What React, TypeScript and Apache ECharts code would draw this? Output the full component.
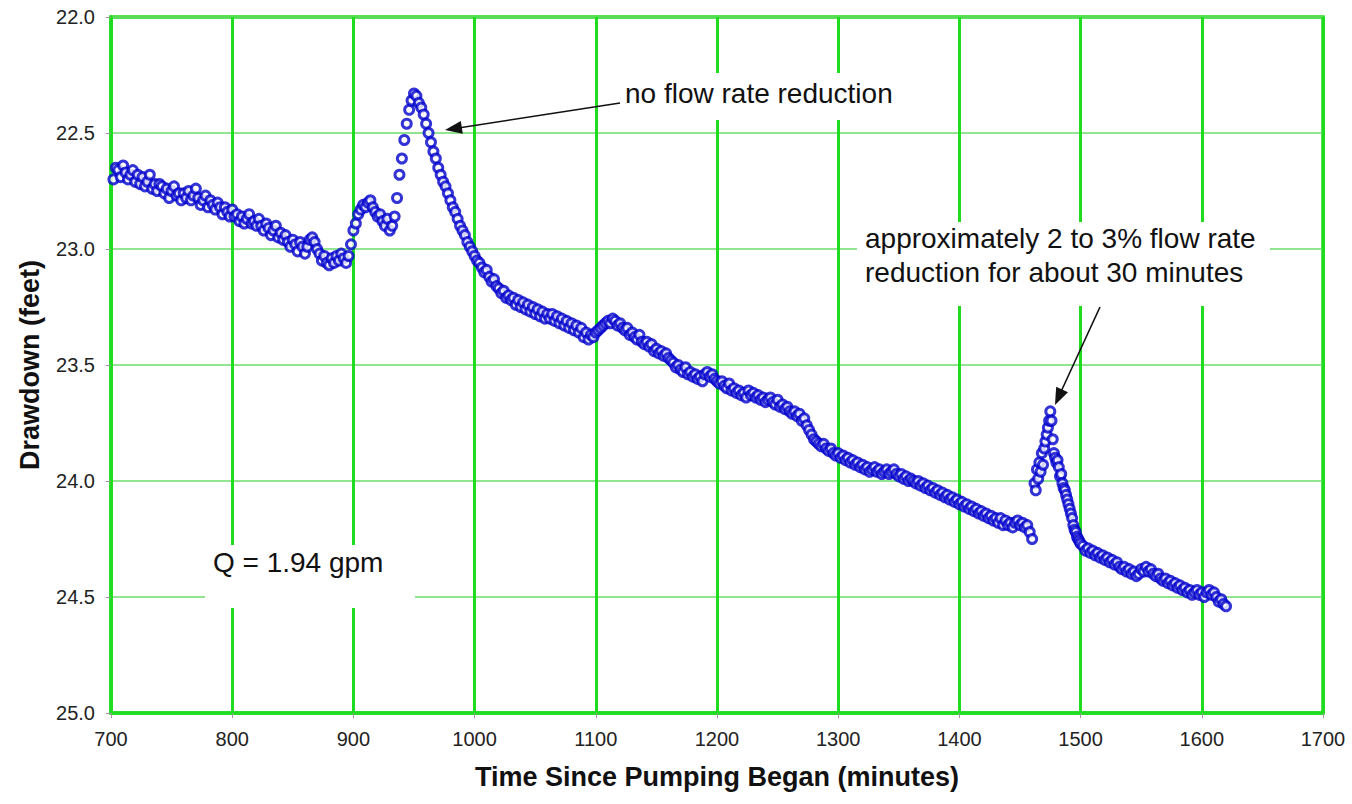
import React, { useEffect, useRef } from "react";
import * as echarts from "echarts";

// ---- data (drawdown in feet) ----
const SEG1_START = 702;
const SEG1_STEP = 2;
const seg1Drawdown = [
  22.70, 22.65, 22.66, 22.69, 22.64, 22.67, 22.70, 22.68, 22.66, 22.71,
  22.68, 22.72, 22.69, 22.73, 22.71, 22.68, 22.74, 22.72, 22.75, 22.72,
  22.73, 22.76, 22.74, 22.78, 22.75, 22.73, 22.77, 22.76, 22.79, 22.76,
  22.78, 22.75, 22.79, 22.77, 22.74, 22.78, 22.81, 22.79, 22.77, 22.82,
  22.79, 22.81, 22.83, 22.80, 22.82, 22.85, 22.82, 22.84, 22.86, 22.83,
  22.86, 22.85, 22.88, 22.86, 22.89, 22.87, 22.85, 22.89, 22.88, 22.90,
  22.87, 22.90, 22.92, 22.89, 22.91, 22.94, 22.92, 22.90, 22.95, 22.93,
  22.96, 22.94, 22.97, 22.99, 22.96, 22.98, 23.01, 22.97, 22.99, 23.02,
  22.99, 22.96, 22.95, 22.97, 23.00, 23.02, 23.05, 23.03, 23.06, 23.07,
  23.04, 23.06, 23.03, 23.05, 23.02, 23.04, 23.06, 23.03, 22.98, 22.92,
  22.89, 22.85, 22.83, 22.81, 22.82, 22.80, 22.79, 22.82, 22.84, 22.86,
  22.85, 22.88, 22.90, 22.87, 22.92, 22.90, 22.86, 22.78, 22.68, 22.61,
  22.53, 22.46, 22.40, 22.36, 22.33, 22.34, 22.37, 22.39, 22.42, 22.46,
  22.50, 22.54, 22.58, 22.61, 22.65, 22.68, 22.71, 22.73, 22.76, 22.79,
  22.82, 22.84, 22.87, 22.90, 22.92, 22.94, 22.97, 22.99, 23.01, 23.03,
  23.05, 23.06, 23.08, 23.10, 23.09, 23.12, 23.14, 23.13, 23.16, 23.17,
  23.19, 23.18, 23.21, 23.20, 23.22, 23.21, 23.24, 23.22, 23.25, 23.23,
  23.26, 23.24, 23.27, 23.25, 23.28, 23.26, 23.29, 23.27, 23.30, 23.28,
  23.30, 23.28, 23.31, 23.29, 23.32, 23.30, 23.33, 23.31, 23.34, 23.32,
  23.35, 23.33, 23.36, 23.34, 23.38, 23.36, 23.39, 23.37, 23.38, 23.36,
  23.35, 23.34, 23.33, 23.32, 23.31, 23.32, 23.30, 23.31, 23.33, 23.32,
  23.34, 23.35, 23.34, 23.37, 23.36, 23.38, 23.39, 23.37, 23.40, 23.41,
  23.40, 23.42, 23.41, 23.44, 23.43, 23.45, 23.44, 23.46, 23.45, 23.47,
  23.48, 23.49, 23.51, 23.50, 23.52, 23.53, 23.51, 23.54, 23.53, 23.55,
  23.54, 23.56, 23.55, 23.57, 23.54, 23.53, 23.55, 23.54, 23.56, 23.57,
  23.58, 23.57, 23.59, 23.60, 23.58, 23.61, 23.60, 23.62, 23.61, 23.63,
  23.62, 23.64, 23.61, 23.63, 23.62, 23.64, 23.63, 23.65, 23.64, 23.66,
  23.65, 23.64, 23.66, 23.67, 23.65, 23.68, 23.67, 23.69, 23.68, 23.70,
  23.71, 23.70, 23.72, 23.71, 23.74, 23.73, 23.76, 23.78, 23.80, 23.82,
  23.83, 23.84, 23.85, 23.84, 23.86, 23.87, 23.86, 23.88, 23.89, 23.88,
  23.90, 23.89, 23.91, 23.90, 23.92, 23.91, 23.93, 23.92, 23.94, 23.93,
  23.95, 23.94, 23.96, 23.95, 23.94, 23.96, 23.95, 23.97, 23.96, 23.95,
  23.97, 23.96, 23.95, 23.97, 23.98, 23.97, 23.99, 23.98, 24.00, 23.99,
  24.00, 24.01, 24.00, 24.02, 24.01, 24.03, 24.02, 24.04, 24.03, 24.05,
  24.04, 24.06, 24.05, 24.07, 24.06, 24.08, 24.07, 24.09, 24.08, 24.10,
  24.09, 24.11, 24.10, 24.12, 24.11, 24.13, 24.12, 24.14, 24.13, 24.15,
  24.14, 24.16, 24.15, 24.17, 24.16, 24.18, 24.16, 24.19, 24.17, 24.19,
  24.18, 24.20, 24.18, 24.17, 24.19, 24.18, 24.20, 24.19, 24.22, 24.25,
];

const seg2aTimes = [
  1462, 1463, 1464, 1465, 1466, 1467, 1468, 1469, 1470, 1471,
  1472, 1473, 1474, 1475, 1476, 1477, 1478, 1479, 1480, 1481,
  1482, 1483, 1484, 1485, 1486, 1487, 1488, 1489, 1490, 1491,
  1492, 1493, 1494, 1495, 1496, 1497, 1498, 1499, 1500,
];
const seg2aDrawdown = [
  24.01, 24.04, 23.95, 23.99, 23.92, 23.96, 23.88, 23.93, 23.86, 23.83,
  23.80, 23.77, 23.74, 23.70, 23.74, 23.82, 23.88, 23.90, 23.92, 23.91,
  23.94, 23.98, 23.97, 24.01, 24.03, 24.04, 24.06, 24.08, 24.10, 24.12,
  24.14, 24.16, 24.19, 24.21, 24.22, 24.24, 24.25, 24.26, 24.27,
];

const SEG2B_START = 1502;
const SEG2B_STEP = 2;
const seg2bDrawdown = [
  24.28, 24.30, 24.29, 24.31, 24.30, 24.32, 24.31, 24.33, 24.32, 24.34,
  24.33, 24.35, 24.34, 24.36, 24.35, 24.37, 24.38, 24.37, 24.39, 24.38,
  24.40, 24.39, 24.41, 24.40, 24.38, 24.39, 24.37, 24.39, 24.38, 24.40,
  24.41, 24.40, 24.42, 24.43, 24.42, 24.44, 24.43, 24.45, 24.44, 24.46,
  24.45, 24.47, 24.46, 24.48, 24.47, 24.49, 24.48, 24.47, 24.49, 24.48,
  24.50, 24.48, 24.47, 24.49, 24.48, 24.50, 24.52, 24.51, 24.53, 24.54,
];

const X_MIN = 700;
const X_MAX = 1700;
const X_INTERVAL = 100;
const Y_MIN = 22.0;
const Y_MAX = 25.0;
const Y_INTERVAL = 0.5;

const X_TITLE = "Time Since Pumping Began (minutes)";
const Y_TITLE = "Drawdown (feet)";
const NOTE_1 = "no flow rate reduction";
const NOTE_2A = "approximately 2 to 3% flow rate";
const NOTE_2B = "reduction for about 30 minutes";
const NOTE_Q = "Q = 1.94 gpm";

const FONT = "'Liberation Sans', Arial, Helvetica, sans-serif";
const GREEN = "#1fdc1f";
const GREEN_LIGHT = "#6cdc6c";
const BLUE = "#0000cc";

function arrowHead(tip: number[], tail: number[], len: number, half: number) {
  const dx = tail[0] - tip[0];
  const dy = tail[1] - tip[1];
  const d = Math.sqrt(dx * dx + dy * dy);
  const ux = dx / d;
  const uy = dy / d;
  const bx = tip[0] + ux * len;
  const by = tip[1] + uy * len;
  return [
    [tip[0], tip[1]],
    [bx - uy * half, by + ux * half],
    [bx + uy * half, by - ux * half],
  ];
}

export default function App() {
  const ref = useRef<HTMLDivElement>(null);

  useEffect(() => {
    if (!ref.current) return;
    const chart = echarts.init(ref.current, null, { renderer: "svg" });

    const points: number[][] = [];
    seg1Drawdown.forEach((v, i) => points.push([SEG1_START + i * SEG1_STEP, v]));
    seg2aDrawdown.forEach((v, i) => points.push([seg2aTimes[i], v]));
    seg2bDrawdown.forEach((v, i) => points.push([SEG2B_START + i * SEG2B_STEP, v]));

    const tip1 = [445, 130];
    const tail1 = [620, 103];
    const tip2 = [1055, 405];
    const tail2 = [1100, 307];

    chart.setOption({
      animation: false,
      backgroundColor: "#ffffff",
      grid: {
        left: 111,
        right: 29,
        top: 17,
        bottom: 91,
        show: true,
        borderColor: GREEN,
        borderWidth: 3.5,
        backgroundColor: "#ffffff",
      },
      xAxis: {
        type: "value",
        min: X_MIN,
        max: X_MAX,
        interval: X_INTERVAL,
        name: X_TITLE,
        nameLocation: "middle",
        nameGap: 50,
        nameTextStyle: { fontFamily: FONT, fontSize: 27, fontWeight: "bold", color: "#111" },
        axisLine: { show: true, lineStyle: { color: GREEN, width: 3.5 } },
        axisTick: { show: true, length: 5, lineStyle: { color: "#999", width: 1 } },
        axisLabel: {
          fontFamily: FONT,
          fontSize: 20,
          color: "#222",
          margin: 16,
          formatter: (v: number) => String(v),
        },
        splitLine: { show: true, lineStyle: { color: GREEN, width: 3 } },
      },
      yAxis: {
        type: "value",
        inverse: true,
        min: Y_MIN,
        max: Y_MAX,
        interval: Y_INTERVAL,
        name: Y_TITLE,
        nameLocation: "middle",
        nameGap: 68,
        nameRotate: 90,
        nameTextStyle: { fontFamily: FONT, fontSize: 27, fontWeight: "bold", color: "#111" },
        axisLine: { show: true, lineStyle: { color: GREEN, width: 3.5 } },
        axisTick: { show: true, length: 5, lineStyle: { color: "#999", width: 1 } },
        axisLabel: {
          fontFamily: FONT,
          fontSize: 20,
          color: "#222",
          margin: 16,
          formatter: (v: number) => v.toFixed(1),
        },
        splitLine: { show: true, lineStyle: { color: GREEN_LIGHT, width: 1.5 } },
      },
      series: [
        {
          type: "scatter",
          data: points,
          symbol: "circle",
          symbolSize: 9,
          itemStyle: { color: "#ffffff", borderColor: BLUE, borderWidth: 3 },
          z: 5,
        },
      ],
      graphic: [
        { type: "rect", z: 50, shape: { x: 610, y: 73, width: 302, height: 47 }, style: { fill: "#ffffff" } },
        { type: "rect", z: 50, shape: { x: 857, y: 222, width: 413, height: 84 }, style: { fill: "#ffffff" } },
        { type: "rect", z: 50, shape: { x: 205, y: 545, width: 210, height: 63 }, style: { fill: "#ffffff" } },
        {
          type: "text", z: 60, x: 625, y: 93,
          style: { text: NOTE_1, fontFamily: FONT, fontSize: 28, fill: "#111", verticalAlign: "middle", align: "left" },
        },
        {
          type: "text", z: 60, x: 865, y: 238,
          style: { text: NOTE_2A, fontFamily: FONT, fontSize: 28, fill: "#111", verticalAlign: "middle", align: "left" },
        },
        {
          type: "text", z: 60, x: 865, y: 272,
          style: { text: NOTE_2B, fontFamily: FONT, fontSize: 28, fill: "#111", verticalAlign: "middle", align: "left" },
        },
        {
          type: "text", z: 60, x: 213, y: 562,
          style: { text: NOTE_Q, fontFamily: FONT, fontSize: 28, fill: "#111", verticalAlign: "middle", align: "left" },
        },
        {
          type: "line", z: 70,
          shape: { x1: tail1[0], y1: tail1[1], x2: tip1[0] + 10, y2: tip1[1] - 1.5 },
          style: { stroke: "#111", lineWidth: 1.6 },
        },
        { type: "polygon", z: 70, shape: { points: arrowHead(tip1, tail1, 17, 6.5) }, style: { fill: "#111" } },
        {
          type: "line", z: 70,
          shape: { x1: tail2[0], y1: tail2[1], x2: tip2[0] + 4, y2: tip2[1] - 9 },
          style: { stroke: "#111", lineWidth: 1.6 },
        },
        { type: "polygon", z: 70, shape: { points: arrowHead(tip2, tail2, 17, 6.5) }, style: { fill: "#111" } },
      ],
    });

    return () => chart.dispose();
  }, []);

  return (
    <div
      ref={ref}
      style={{ position: "absolute", left: 0, top: 0, width: 1352, height: 804, background: "#fff" }}
    />
  );
}
